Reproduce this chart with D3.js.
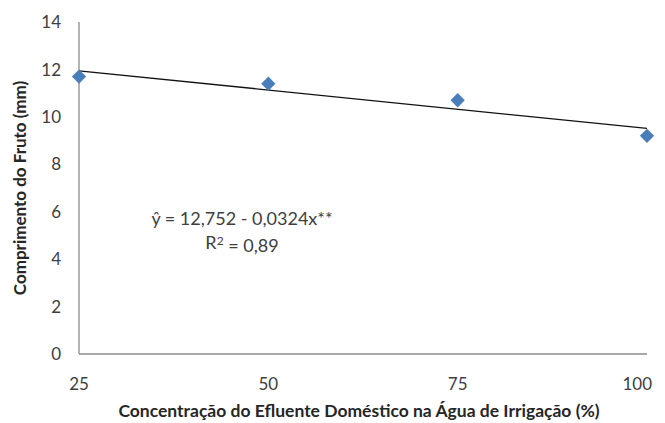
<!DOCTYPE html>
<html>
<head>
<meta charset="utf-8">
<script src="https://cdn.jsdelivr.net/npm/d3@7"></script>
<style>
  html, body { margin: 0; padding: 0; background: #fff; }
  svg { display: block; font-family: Lato, "Open Sans", sans-serif; }
</style>
</head>
<body>
<svg id="chart" width="665" height="423"></svg>
<script>
// Effluent concentration (%) and measured fruit length (mm)
const concentrations = [25, 50, 75, 100];
const fruitLength = [11.7, 11.4, 10.7, 9.2];
// Fitted regression: y = a + b x
const fitIntercept = 12.752;
const fitSlope = -0.0324;
const yTicks = [0, 2, 4, 6, 8, 10, 12, 14];
const xTicks = [25, 50, 75, 100];

const svg = d3.select("#chart");
const plotLeft = 79, plotRight = 647, plotTop = 22, plotBottom = 354;

const x = d3.scaleLinear().domain([25, 100]).range([plotLeft, plotRight]);
const y = d3.scaleLinear().domain([0, 14]).range([plotBottom, plotTop]);

const axisColor = "#8c8c8c";
const textColor = "#404040";

// Axis lines
svg.append("line").attr("x1", plotLeft).attr("x2", plotLeft).attr("y1", y(14)).attr("y2", y(0))
  .attr("stroke", axisColor).attr("stroke-width", 1.3);
svg.append("line").attr("x1", plotLeft).attr("x2", plotRight).attr("y1", y(0)).attr("y2", y(0))
  .attr("stroke", axisColor).attr("stroke-width", 1.3);

// Y tick labels
svg.append("g").selectAll("text").data(yTicks).join("text")
  .attr("x", 61).attr("y", d => y(d)).attr("dy", "0.36em")
  .attr("text-anchor", "end").attr("font-size", 17).attr("fill", textColor)
  .text(d => d);

// X tick labels
svg.append("g").selectAll("text").data(xTicks).join("text")
  .attr("x", d => x(d)).attr("y", 384).attr("dy", "0.36em")
  .attr("text-anchor", d => d === 100 ? "end" : "middle")
  .attr("dx", d => d === 100 ? 5 : 0)
  .attr("font-size", 17).attr("fill", textColor)
  .text(d => d);

// Trend line
svg.append("line")
  .attr("x1", x(25)).attr("y1", y(fitIntercept + fitSlope * 25))
  .attr("x2", x(100)).attr("y2", y(fitIntercept + fitSlope * 100))
  .attr("stroke", "#111").attr("stroke-width", 1.3);

// Diamond markers
const diamond = d3.symbol().type(d3.symbolDiamond2).size(130);
svg.append("g").selectAll("path").data(concentrations).join("path")
  .attr("transform", (d, i) => `translate(${x(d)},${y(fruitLength[i])})`)
  .attr("d", diamond)
  .attr("fill", "#4a7ebb");

// Regression annotation
svg.append("text").attr("x", 242).attr("y", 219).attr("dy", "0.36em")
  .attr("text-anchor", "middle").attr("font-size", 18).attr("fill", textColor)
  .text("ŷ = 12,752 - 0,0324x**");
const r2 = svg.append("text").attr("x", 242).attr("y", 243).attr("dy", "0.36em")
  .attr("text-anchor", "middle").attr("font-size", 18).attr("fill", textColor);
r2.append("tspan").text("R");
r2.append("tspan").attr("dy", "-0.4em").attr("font-size", 12).text("2");
r2.append("tspan").attr("dy", "0.4em").text(" = 0,89");

// Axis titles
svg.append("text").attr("x", 359).attr("y", 411).attr("dy", "0.36em")
  .attr("text-anchor", "middle").attr("font-size", 17.5).attr("font-weight", "bold")
  .attr("fill", "#262626")
  .text("Concentração do Efluente Doméstico na Água de Irrigação (%)");
svg.append("text").attr("transform", "translate(20,188) rotate(-90)").attr("dy", "0.36em")
  .attr("text-anchor", "middle").attr("font-size", 17).attr("font-weight", "bold")
  .attr("fill", "#262626")
  .text("Comprimento do Fruto (mm)");
</script>
</body>
</html>
